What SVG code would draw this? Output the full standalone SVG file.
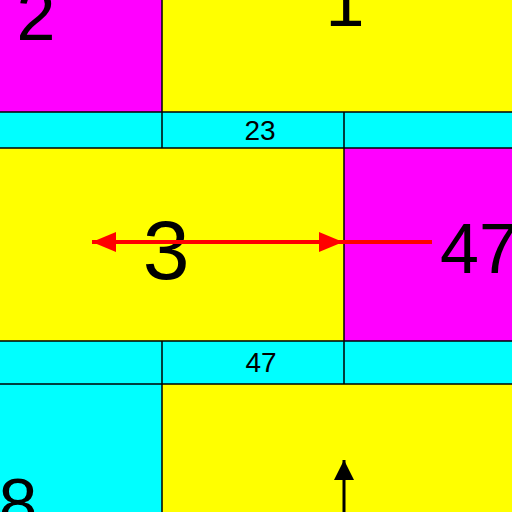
<svg xmlns="http://www.w3.org/2000/svg" width="512" height="512" viewBox="0 0 512 512">
<style>
.m{fill:#f0f}.y{fill:#ff0}.c{fill:#0ff}
.b{stroke:#000;stroke-width:1.5;fill:none}
.big{font-family:"Liberation Sans",Arial,sans-serif;font-size:70px;fill:#000}
.sm{font-family:"Liberation Sans",Arial,sans-serif;font-size:28px;fill:#000;text-anchor:middle}
</style>
<defs>
<marker id="ar" markerWidth="24" markerHeight="20" refX="24" refY="10" orient="auto" markerUnits="userSpaceOnUse"><path d="M0,0L24,10L0,20z" fill="#f00"/></marker>
<marker id="ab" markerWidth="20" markerHeight="20" refX="20" refY="10" orient="auto" markerUnits="userSpaceOnUse"><path d="M0,0L20,10L0,20z" fill="#000"/></marker>
</defs>
<g id="n2"><rect class="m" x="0" y="0" width="162" height="112"/><text class="big" x="36" y="40" text-anchor="middle">2</text></g>
<g id="n1"><rect class="y" x="162" y="0" width="350" height="112"/><text class="big" x="345" y="26" text-anchor="middle">1</text></g>
<g id="band1"><rect class="c" x="0" y="112" width="162" height="36"/><rect class="c" x="162" y="112" width="182" height="36"/><rect class="c" x="344" y="112" width="168" height="36"/><text class="sm" x="260" y="140">23</text></g>
<g id="n3"><rect class="y" x="0" y="148" width="344" height="193"/><text class="big" x="166" y="279" text-anchor="middle" style="font-size:84px">3</text></g>
<g id="n47"><rect class="m" x="344" y="148" width="168" height="193"/><text class="big" x="440" y="273">47</text></g>
<g id="band2"><rect class="c" x="0" y="341" width="162" height="43"/><rect class="c" x="162" y="341" width="182" height="43"/><rect class="c" x="344" y="341" width="168" height="43"/><text class="sm" x="261" y="372">47</text></g>
<g id="n8"><rect class="c" x="0" y="384" width="162" height="128"/><text class="big" x="18" y="528" text-anchor="middle">8</text></g>
<g id="nb"><rect class="y" x="162" y="384" width="350" height="128"/></g>
<g id="borders">
<path class="b" d="M162,0V112M0,112H512M162,112V148M344,112V148M0,148H512M344,148V341M0,341H512M162,341V384M344,341V384M0,384H512M162,384V512"/>
</g>
<g id="connectors">
<line x1="344" y1="242" x2="92" y2="242" stroke="#f00" stroke-width="4" marker-end="url(#ar)"/>
<line x1="432" y1="242" x2="343" y2="242" stroke="#f00" stroke-width="4"/>
<line x1="320" y1="242" x2="343" y2="242" stroke="#f00" stroke-width="4" marker-end="url(#ar)"/>
<line x1="344" y1="512" x2="344" y2="460" stroke="#000" stroke-width="3" marker-end="url(#ab)"/>
</g>
</svg>
